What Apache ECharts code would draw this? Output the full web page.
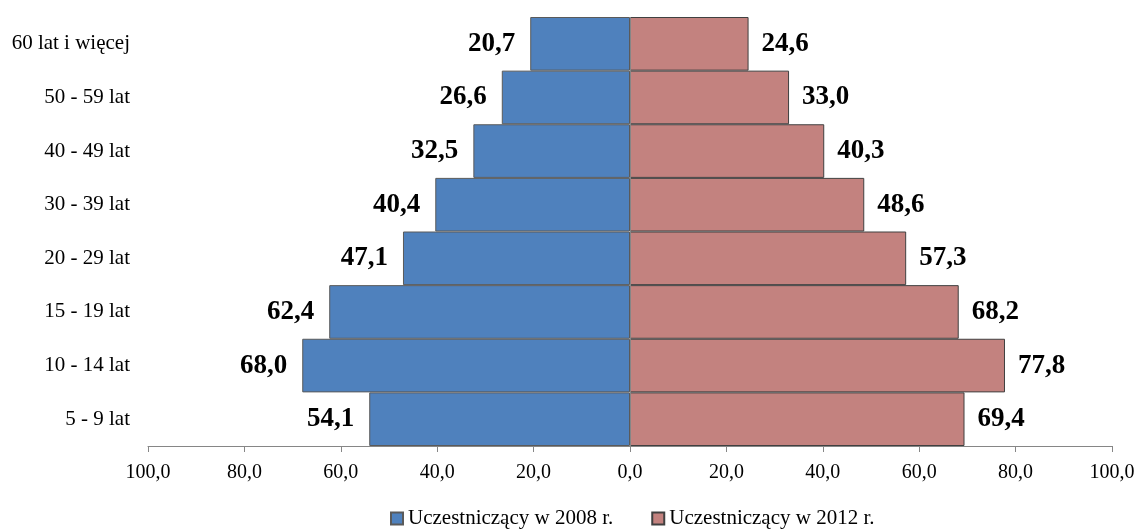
<!DOCTYPE html>
<html>
<head>
<meta charset="utf-8">
<script src="https://cdn.jsdelivr.net/npm/echarts@6/dist/echarts.min.js"></script>
<style>
    html, body { margin: 0; padding: 0; background: #fff; }
    #chart { width: 1138px; height: 529px; }
</style>
</head>
<body>
<div id="chart"></div>
<script>
// kategorie wiekowe (od dołu do góry)
const categories = ['5 - 9 lat', '10 - 14 lat', '15 - 19 lat', '20 - 29 lat', '30 - 39 lat', '40 - 49 lat', '50 - 59 lat', '60 lat i więcej'];
const values2008 = [54.1, 68.0, 62.4, 47.1, 40.4, 32.5, 26.6, 20.7];
const values2012 = [69.4, 77.8, 68.2, 57.3, 48.6, 40.3, 33.0, 24.6];
const seriesNames = ['Uczestniczący w 2008 r.', 'Uczestniczący w 2012 r.'];
const tickValues = [-100, -80, -60, -40, -20, 0, 20, 40, 60, 80, 100];

const font = "'Liberation Serif', 'Times New Roman', serif";
const fmt = (v) => Math.abs(v).toFixed(1).replace('.', ',');

const chart = echarts.init(document.getElementById('chart'), null, { renderer: 'canvas' });

const option = {
    animation: false,
    textStyle: { fontFamily: font },
    grid: { top: 17, bottom: 83, left: 148, right: 26 },
    legend: {
        top: 503,
        left: 385,
        icon: 'rect',
        itemWidth: 12,
        itemHeight: 12,
        itemGap: 38,
        textStyle: { fontFamily: font, fontSize: 21, color: '#000' },
        data: seriesNames
    },
    xAxis: {
        type: 'value',
        min: tickValues[0],
        max: tickValues[tickValues.length - 1],
        interval: 20,
        splitLine: { show: false },
        axisLine: { show: true, lineStyle: { color: '#868686', width: 1 } },
        axisTick: { show: true, length: 6, lineStyle: { color: '#868686' } },
        axisLabel: { formatter: fmt, fontFamily: font, fontSize: 20, color: '#000', margin: 17 }
    },
    yAxis: {
        type: 'category',
        data: categories,
        axisLine: { show: false, onZero: false },
        axisTick: { show: false },
        axisLabel: { fontFamily: font, fontSize: 21, color: '#000', margin: 18 }
    },
    series: [
        {
            name: seriesNames[0],
            type: 'bar',
            stack: 'all',
            barCategoryGap: 0,
            data: values2008.map(v => -v),
            itemStyle: { color: '#4F81BD', borderColor: '#5a5a5a', borderWidth: 1 },
            label: {
                show: true,
                position: 'left',
                distance: 15,
                formatter: (p) => fmt(p.value),
                fontFamily: font,
                fontSize: 27,
                fontWeight: 'bold',
                color: '#000'
            },
            markLine: {
                silent: true,
                symbol: 'none',
                label: { show: false },
                lineStyle: { color: '#868686', type: 'solid', width: 1 },
                data: [{ xAxis: 0 }]
            }
        },
        {
            name: seriesNames[1],
            type: 'bar',
            stack: 'all',
            barCategoryGap: 0,
            data: values2012,
            itemStyle: { color: '#C3827F', borderColor: '#404040', borderWidth: 1 },
            label: {
                show: true,
                position: 'right',
                distance: 13,
                formatter: (p) => fmt(p.value),
                fontFamily: font,
                fontSize: 27,
                fontWeight: 'bold',
                color: '#000'
            }
        }
    ]
};

chart.setOption(option);
</script>
</body>
</html>
